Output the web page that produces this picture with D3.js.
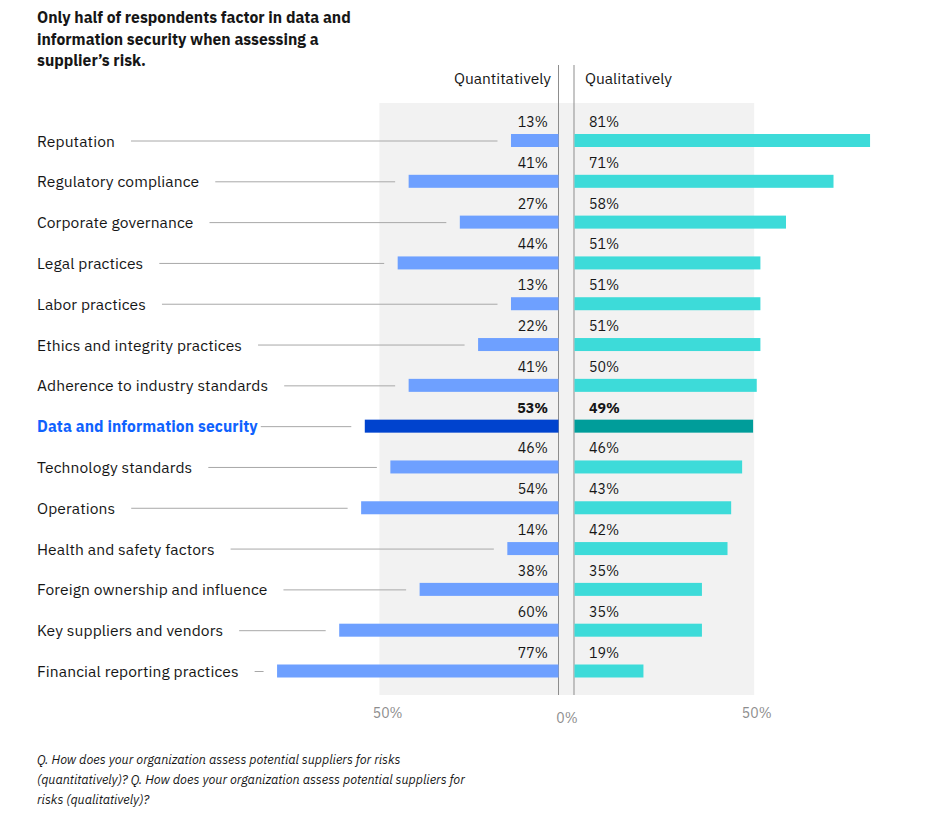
<!DOCTYPE html>
<html><head><meta charset="utf-8">
<script src="https://cdn.jsdelivr.net/npm/d3@7"></script>
<style>body{margin:0;background:#fff}svg{display:block}text{font-family:"IBM Plex Sans",Roboto,"Noto Sans",sans-serif}</style>
</head><body><svg id="c" width="930" height="830"></svg>
<script>
const categories = ["Reputation","Regulatory compliance","Corporate governance","Legal practices","Labor practices","Ethics and integrity practices","Adherence to industry standards","Data and information security","Technology standards","Operations","Health and safety factors","Foreign ownership and influence","Key suppliers and vendors","Financial reporting practices"];
const quantitative = [13,41,27,44,13,22,41,53,46,54,14,38,60,77];
const qualitative = [81,71,58,51,51,51,50,49,46,43,42,35,35,19];
const highlight = "Data and information security";
const titleLines = ["Only half of respondents factor in data and","information security when assessing a","supplier\u2019s risk."];
const noteLines = ["Q. How does your organization assess potential suppliers for risks","(quantitatively)? Q. How does your organization assess potential suppliers for","risks (qualitatively)?"];
const seriesNames = ["Quantitatively","Qualitatively"];
const tickValues = [50,0,50];

const svg = d3.select("#c");
const z0L = 558.5, z0R = 574, pxPer = 3.655;
const xL = d3.scaleLinear().domain([0,100]).range([z0L, z0L - 100*pxPer]);
const xR = d3.scaleLinear().domain([0,100]).range([z0R, z0R + 100*pxPer]);
const y = d3.scalePoint().domain(categories).range([140.5, 671]);
const barH = 13;

// title
svg.append("g").selectAll("text").data(titleLines).join("text")
  .attr("x",37).attr("y",(d,i)=>23+i*21.5).attr("font-size",15.7).attr("font-weight",700).attr("fill","#161616").text(d=>d);

// background
svg.append("rect").attr("x",xL(49)).attr("y",103).attr("width",xR(49.3)-xL(49)).attr("height",592).attr("fill","#f2f2f2");

// zero lines
svg.append("line").attr("x1",z0L).attr("x2",z0L).attr("y1",65).attr("y2",695).attr("stroke","#8d8d8d").attr("stroke-width",1);
svg.append("line").attr("x1",z0R).attr("x2",z0R).attr("y1",65).attr("y2",695).attr("stroke","#8d8d8d").attr("stroke-width",1);

// headers
svg.append("text").attr("x",551).attr("y",84).attr("text-anchor","end").attr("font-size",15.5).attr("fill","#161616").text(seriesNames[0]);
svg.append("text").attr("x",585).attr("y",84).attr("font-size",15.5).attr("fill","#161616").text(seriesNames[1]);

const rows = svg.append("g").selectAll("g").data(categories).join("g");
rows.each(function(c,i){
  const g = d3.select(this);
  const cy = y(c);
  const hi = c===highlight;
  const lab = g.append("text").attr("x",37).attr("y",cy+6).attr("font-size",15.6).attr("letter-spacing",0.1)
    .attr("font-weight",hi?700:400).attr("fill",hi?"#0f62fe":"#161616").text(c);
  const w = lab.node().getComputedTextLength();
  const barStart = xL(quantitative[i]);
  g.append("line").attr("x1",37+w+(hi?3:16)).attr("x2",barStart-13.5).attr("y1",cy+0.5).attr("y2",cy+0.5)
    .attr("stroke","#a8a8a8").attr("stroke-width",1);
  g.append("rect").attr("x",barStart).attr("y",cy-barH/2).attr("width",z0L-barStart).attr("height",barH)
    .attr("fill",hi?"#0043ce":"#6ea0ff");
  g.append("rect").attr("x",z0R+0.5).attr("y",cy-barH/2).attr("width",xR(qualitative[i])-z0R-0.5).attr("height",barH)
    .attr("fill",hi?"#009d9a":"#3ddbd9");
  g.append("text").attr("x",548).attr("y",cy-13.5).attr("text-anchor","end").attr("font-size",14.2)
    .attr("font-weight",hi?700:400).attr("fill","#161616").text(quantitative[i]+"%");
  g.append("text").attr("x",589).attr("y",cy-13.5).attr("font-size",14.2)
    .attr("font-weight",hi?700:400).attr("fill","#161616").text(qualitative[i]+"%");
});

// axis labels
svg.append("text").attr("x",xL(tickValues[0])-3).attr("y",718).attr("font-size",14).attr("fill","#8d8d8d").text(tickValues[0]+"%");
svg.append("text").attr("x",567).attr("y",723).attr("text-anchor","middle").attr("font-size",14).attr("fill","#8d8d8d").text(tickValues[1]+"%");
svg.append("text").attr("x",xR(tickValues[2])).attr("y",718).attr("text-anchor","middle").attr("font-size",14).attr("fill","#8d8d8d").text(tickValues[2]+"%");

// note
svg.append("g").selectAll("text").data(noteLines).join("text")
  .attr("x",37).attr("y",(d,i)=>764+i*20).attr("font-size",12.6).attr("font-style","italic").attr("fill","#161616").text(d=>d);
</script></body></html>
